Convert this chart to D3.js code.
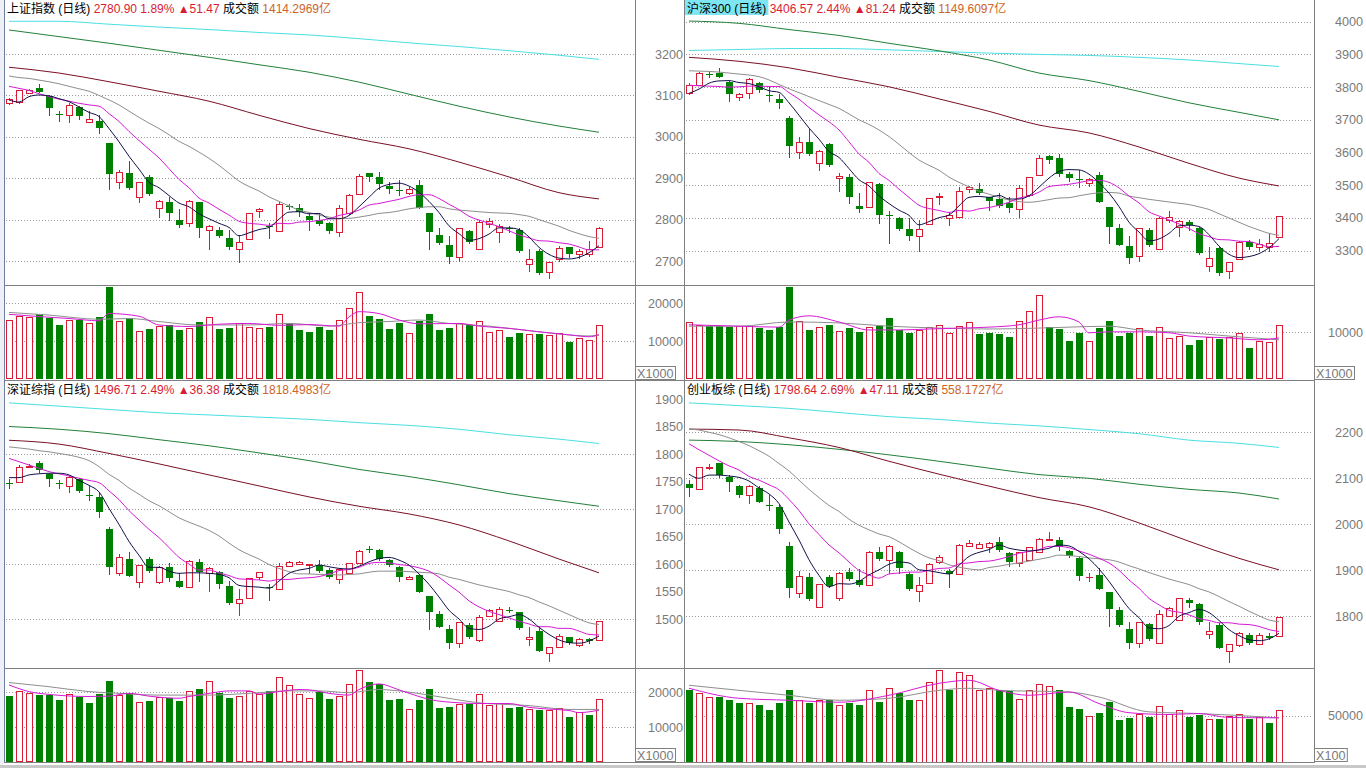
<!DOCTYPE html>
<html><head><meta charset="utf-8">
<script src="https://cdn.jsdelivr.net/npm/d3@7"></script>
<style>html,body{margin:0;padding:0;background:#fff;overflow:hidden}svg{display:block}text{white-space:pre}</style>
</head><body>
<svg id="c" width="1366" height="768"></svg>
<script>
// ---------------- DATA ----------------
const LONG_IDX = [0,5,10,15,20,25,30,35,40,45,50,55,59];
const titleNames = ["上证指数","沪深300","深证综指","创业板综"];
const titleLast = ["2780.90","3406.57","1496.71","1798.64"];
const titlePct = ["1.89%","2.44%","2.49%","2.69%"];
const titleChg = ["▲51.47","▲81.24","▲36.38","▲47.11"];
const titleAmt = ["1414.2969亿","1149.6097亿","1818.4983亿","558.1727亿"];

// 上证指数
const shOpen=[3081,3083,3106,3119,3099,3056,3052,3071,3036,3037,2984,2890,2912,2855,2902,2829,2842,2800,2791,2842,2775,2776,2755,2730,2752,2820,2784,2773,2833,2827,2808,2800,2791,2769,2815,2861,2912,2903,2881,2872,2865,2883,2815,2764,2738,2710,2772,2730,2789,2769,2779,2776,2693,2724,2674,2704,2733,2716,2718,2734];
const shHigh=[3094,3114,3115,3127,3102,3063,3081,3074,3062,3052,2985,2921,2941,2891,2907,2847,2855,2825,2847,2843,2786,2783,2776,2763,2817,2828,2791,2843,2837,2837,2815,2815,2795,2835,2862,2910,2913,2915,2891,2895,2879,2895,2815,2779,2760,2779,2776,2799,2803,2789,2784,2779,2730,2730,2698,2736,2733,2730,2749,2781];
const shLow=[3077,3080,3105,3108,3052,3039,3034,3044,3034,3010,2873,2873,2874,2839,2859,2805,2800,2783,2783,2758,2726,2758,2730,2694,2750,2803,2755,2771,2825,2808,2776,2787,2767,2757,2811,2859,2893,2875,2865,2859,2859,2827,2728,2741,2694,2698,2743,2728,2779,2744,2771,2722,2674,2668,2656,2698,2710,2706,2709,2734];
const shClose=[3091,3113,3114,3109,3069,3054,3078,3051,3042,3022,2909,2914,2877,2890,2861,2845,2815,2787,2845,2779,2785,2761,2734,2746,2815,2826,2782,2837,2830,2819,2800,2789,2773,2829,2859,2905,2903,2885,2874,2871,2874,2828,2771,2743,2709,2779,2746,2795,2796,2785,2777,2725,2706,2672,2698,2732,2718,2725,2729,2780.9];
const shVol=[15600,16700,16300,17100,16200,14300,15600,15600,14700,16400,24400,15300,16100,12700,13200,14000,14300,13000,13600,15000,16300,13200,13600,14700,13800,13400,13800,17100,14700,13000,12500,13800,13000,15600,18700,22900,16700,15800,13200,14900,12300,15300,17200,13000,13600,14700,14300,15300,12500,13000,11200,12100,11900,11900,11700,12100,9900,10900,10300,14300];
const shMA5=[3089,3084,3097,3101,3099,3092,3085,3072,3059,3049,3020,2988,2953,2922,2890,2877,2858,2840,2831,2814,2802,2791,2781,2761,2768,2776,2781,2801,2818,2819,2814,2815,2802,2802,2810,2831,2854,2876,2885,2888,2881,2866,2844,2817,2785,2766,2750,2754,2765,2780,2780,2776,2758,2733,2716,2707,2705,2709,2720,2737];
const shMA10=[3122,3117,3112,3104,3097,3091,3086,3081,3077,3074,3056,3037,3013,2991,2970,2949,2923,2897,2877,2852,2840,2825,2811,2796,2791,2789,2786,2791,2790,2794,2795,2798,2802,2810,2815,2823,2835,2839,2844,2849,2856,2860,2860,2851,2837,2824,2808,2799,2791,2783,2773,2763,2756,2749,2748,2744,2741,2734,2727,2727];
const shMA20=[3147,3143,3141,3137,3133,3128,3122,3116,3110,3100,3089,3077,3062,3047,3033,3020,3005,2989,2977,2963,2948,2931,2912,2893,2880,2869,2855,2844,2833,2823,2817,2811,2806,2803,2803,2806,2810,2815,2817,2821,2826,2829,2831,2831,2826,2823,2821,2819,2817,2816,2815,2812,2808,2800,2792,2784,2774,2766,2759,2755];
const shMA60=[3168,3154,3133,3110,3086,3052,3020,2994,2971,2939,2903,2865,2850];
const shMA120=[3258,3242,3226,3209,3192,3174,3156,3132,3103,3074,3048,3026,3011];
const shMA250=[3279,3279,3272,3265,3259,3252,3246,3237,3227,3218,3208,3197,3187];
const shVolMA5=[[0,17100],[3,16500],[6,16000],[9,15400],[10,17300],[13,16600],[15,14300],[18,13900],[21,14500],[24,14700],[27,14200],[30,14400],[33,14000],[34,16400],[35,17800],[37,17300],[39,15600],[41,14600],[45,14700],[47,14000],[50,13400],[53,12500],[56,11700],[58,11200],[59,11700]];
const shVolMA10=[[0,17600],[4,16900],[9,15800],[12,16000],[15,15200],[19,14300],[24,14300],[28,14700],[32,14000],[35,14900],[38,15200],[41,15600],[44,14700],[48,14000],[53,12500],[58,11400],[59,11700]];
const shPriceTicks=[3200,3100,3000,2900,2800,2700];
const shVolTicks=[20000,10000];

// 沪深300
const hsOpen=[3783,3807,3841,3844,3817,3769,3781,3812,3775,3764,3705,3601,3631,3567,3626,3521,3524,3437,3433,3504,3410,3399,3365,3346,3381,3463,3399,3402,3488,3489,3465,3457,3445,3427,3470,3531,3590,3583,3535,3520,3508,3531,3435,3368,3314,3284,3363,3304,3394,3373,3389,3370,3253,3307,3239,3275,3328,3310,3310,3341];
const hsHigh=[3812,3846,3850,3858,3819,3783,3827,3817,3800,3778,3712,3647,3671,3608,3630,3539,3535,3476,3511,3506,3422,3402,3399,3394,3460,3476,3419,3496,3498,3508,3465,3477,3465,3501,3526,3593,3593,3596,3542,3547,3521,3542,3435,3382,3345,3368,3368,3404,3422,3394,3394,3373,3312,3310,3266,3330,3333,3336,3351,3407];
const hsLow=[3776,3804,3832,3830,3759,3758,3764,3786,3759,3737,3586,3580,3593,3545,3560,3480,3445,3419,3433,3386,3323,3363,3333,3297,3379,3440,3376,3399,3477,3472,3424,3435,3419,3399,3465,3529,3569,3528,3514,3496,3496,3448,3324,3317,3261,3266,3314,3302,3386,3341,3363,3290,3236,3226,3213,3272,3304,3297,3295,3341];
const hsClose=[3807,3842,3839,3832,3779,3778,3825,3791,3773,3751,3621,3633,3595,3606,3562,3529,3463,3427,3511,3409,3408,3366,3346,3365,3460,3467,3409,3483,3494,3476,3452,3438,3431,3493,3524,3583,3577,3535,3521,3518,3518,3450,3373,3317,3277,3368,3317,3401,3404,3391,3379,3294,3277,3231,3266,3326,3310,3320,3325,3406.57];
const hsVol=[12200,11600,11300,11300,11100,11300,11300,10900,10500,11100,19600,12400,10500,11100,11600,10300,10900,10100,11100,11300,13000,10500,9900,10500,11100,11600,9900,11300,12200,9600,9900,9600,9100,12400,14500,17900,11200,10700,8200,9900,8200,10900,12400,9200,9900,10900,9200,11100,8700,9200,7300,8400,9100,8500,9100,9900,6700,8200,8000,11600];
const hsMA5=[3781,3794,3812,3819,3820,3814,3811,3801,3789,3784,3752,3714,3675,3641,3603,3585,3551,3517,3498,3468,3444,3424,3408,3379,3389,3401,3409,3437,3463,3466,3463,3469,3458,3458,3468,3494,3522,3542,3548,3547,3534,3508,3476,3435,3387,3357,3330,3336,3353,3376,3378,3374,3349,3314,3289,3279,3282,3291,3309,3337];
const hsMA10=[3806,3804,3803,3802,3800,3801,3803,3803,3802,3802,3783,3763,3738,3715,3694,3669,3633,3596,3570,3536,3515,3488,3463,3439,3429,3423,3417,3423,3421,3428,3432,3439,3448,3461,3467,3479,3496,3500,3503,3508,3514,3515,3509,3492,3467,3446,3419,3406,3394,3382,3368,3352,3343,3334,3333,3329,3328,3320,3312,3313];
const hsMA20=[3850,3849,3848,3846,3843,3840,3837,3832,3822,3808,3795,3783,3771,3759,3747,3735,3718,3700,3686,3669,3649,3625,3600,3577,3561,3546,3525,3509,3495,3482,3473,3463,3455,3450,3448,3451,3456,3461,3462,3468,3473,3477,3478,3476,3467,3462,3457,3453,3449,3445,3441,3434,3426,3413,3400,3387,3374,3363,3353,3347];
const hsMA60=[3891,3879,3859,3830,3801,3764,3726,3684,3660,3617,3567,3522,3498];
const hsMA120=[4002,3995,3976,3958,3934,3911,3883,3843,3820,3787,3752,3723,3700];
const hsMA250=[3912,3915,3918,3918,3914,3909,3904,3900,3897,3891,3883,3872,3863];
const hsVolMA5=[[0,11600],[5,11300],[9,11100],[10,12600],[12,13500],[15,12200],[18,10500],[21,10500],[24,10700],[27,10900],[30,11100],[33,11600],[35,12600],[37,13300],[39,12200],[40,9900],[42,10100],[45,10100],[48,9900],[50,9200],[54,8800],[57,8400],[59,8800]];
const hsVolMA10=[[0,11300],[5,11300],[10,12200],[15,12000],[20,11300],[25,10900],[30,10700],[35,10900],[38,11100],[42,11300],[45,10500],[50,9900],[54,9200],[59,8400]];
const hsPriceTicks=[4000,3900,3800,3700,3600,3500,3400,3300];
const hsVolTicks=[10000];

// 深证综指
const szOpen=[1747,1749,1776,1783,1764,1747,1741,1754,1725,1722,1664,1583,1610,1567,1609,1567,1595,1569,1559,1604,1583,1586,1560,1529,1539,1576,1558,1554,1597,1600,1599,1599,1589,1572,1583,1601,1627,1625,1607,1595,1573,1580,1541,1509,1481,1457,1490,1462,1505,1496,1517,1512,1463,1478,1439,1450,1467,1453,1463,1461];
const szHigh=[1755,1780,1781,1788,1766,1753,1760,1757,1741,1730,1668,1618,1622,1598,1613,1597,1601,1584,1607,1610,1595,1588,1570,1554,1574,1586,1564,1601,1605,1606,1600,1607,1592,1591,1602,1625,1633,1627,1609,1596,1578,1580,1541,1515,1489,1494,1493,1507,1518,1521,1521,1513,1485,1483,1450,1472,1467,1466,1466,1497];
const szLow=[1739,1747,1774,1768,1741,1738,1729,1731,1716,1686,1581,1578,1578,1557,1586,1564,1569,1558,1558,1570,1550,1557,1527,1505,1539,1571,1535,1553,1595,1598,1582,1586,1574,1564,1582,1600,1622,1607,1597,1570,1571,1549,1481,1485,1447,1447,1465,1459,1504,1494,1512,1481,1451,1441,1421,1447,1454,1450,1457,1461];
const szClose=[1746,1777,1779,1771,1754,1745,1759,1733,1724,1694,1595,1612,1579,1598,1587,1595,1575,1558,1606,1585,1592,1564,1530,1536,1574,1585,1556,1596,1604,1604,1600,1588,1577,1591,1601,1624,1626,1610,1598,1577,1577,1550,1512,1486,1456,1494,1467,1504,1516,1519,1516,1483,1467,1442,1450,1470,1456,1464,1460,1496.71];
const szVol=[18900,20500,19700,19200,19200,17800,19400,18800,17000,19500,23200,19200,19700,17100,17600,18600,18300,17600,20500,20900,23200,19700,18500,18900,20500,19400,20400,24300,22100,19400,18300,20000,18100,19000,22400,26400,23000,22400,17800,18100,15100,17800,20900,15400,15700,16800,16700,19400,16400,17000,15400,15700,15100,14900,14900,15600,13000,14300,13500,18000];
const szMA5=[1757,1757,1762,1764,1765,1765,1762,1752,1743,1731,1701,1672,1641,1616,1594,1594,1587,1583,1584,1584,1583,1581,1575,1561,1559,1558,1556,1569,1583,1589,1592,1598,1595,1592,1591,1596,1604,1610,1612,1607,1598,1582,1563,1540,1516,1500,1483,1481,1487,1500,1504,1508,1500,1485,1472,1462,1457,1456,1460,1469];
const szMA10=[1792,1786,1780,1774,1768,1764,1760,1756,1752,1748,1733,1717,1697,1680,1663,1648,1630,1612,1600,1589,1589,1584,1579,1573,1572,1571,1569,1572,1572,1574,1575,1577,1582,1588,1590,1594,1601,1603,1602,1599,1597,1593,1587,1576,1562,1549,1533,1522,1514,1508,1502,1496,1491,1486,1486,1483,1483,1478,1472,1471];
const szMA20=[1813,1811,1809,1806,1804,1801,1798,1794,1788,1777,1763,1752,1738,1727,1715,1706,1695,1684,1676,1669,1661,1651,1638,1626,1617,1609,1599,1592,1586,1582,1582,1581,1581,1580,1581,1582,1585,1587,1587,1587,1586,1585,1584,1582,1576,1572,1567,1562,1558,1554,1550,1544,1539,1531,1524,1516,1508,1500,1493,1490];
const szMA60=[1825,1818,1801,1782,1762,1742,1722,1705,1691,1671,1642,1609,1584];
const szMA120=[1850,1845,1837,1826,1815,1802,1788,1772,1759,1744,1728,1715,1705];
const szMA250=[1893,1887,1881,1875,1871,1867,1863,1857,1852,1845,1835,1827,1819];
const szVolMA5=[[0,22100],[2,20200],[4,19400],[8,18800],[10,18900],[12,19700],[14,18900],[15,18600],[17,18300],[18,18800],[20,19700],[22,20400],[24,20400],[25,19500],[27,20200],[29,20800],[30,20700],[32,19700],[34,19200],[35,20800],[37,22400],[39,20700],[41,18800],[42,18000],[45,17000],[47,16800],[50,16800],[52,15700],[54,15200],[56,14800],[57,14200],[59,14900]];
const szVolMA10=[[0,22800],[4,21600],[8,20200],[11,19700],[15,19200],[20,19200],[24,19700],[28,20400],[31,20400],[34,19900],[37,20800],[39,20400],[42,19200],[45,17800],[47,17000],[52,16200],[56,15100],[59,15100]];
const szPriceTicks=[1900,1850,1800,1750,1700,1650,1600,1550,1500];
const szGridTicks=[1800,1700,1600,1500];
const szVolTicks=[20000,10000];

// 创业板综
const cyOpen=[2088,2076,2123,2133,2103,2083,2064,2080,2041,2038,1953,1850,1885,1821,1885,1839,1897,1879,1868,1939,1922,1940,1893,1856,1873,1917,1898,1891,1953,1949,1951,1961,1937,1915,1922,1940,1966,1966,1943,1926,1885,1890,1852,1814,1772,1741,1783,1741,1801,1793,1835,1826,1762,1781,1725,1738,1759,1739,1758,1757];
const cyHigh=[2096,2124,2131,2134,2107,2085,2085,2083,2064,2042,1961,1899,1895,1870,1890,1897,1904,1902,1942,1951,1955,1943,1897,1886,1915,1933,1902,1957,1966,1962,1962,1973,1940,1940,1951,1970,1984,1972,1944,1930,1895,1904,1852,1821,1787,1787,1786,1814,1821,1840,1839,1830,1788,1785,1739,1765,1763,1763,1764,1799];
const cyLow=[2062,2075,2117,2103,2072,2059,2044,2048,2031,1982,1843,1840,1835,1817,1864,1834,1880,1866,1867,1922,1892,1895,1857,1832,1872,1914,1863,1890,1951,1948,1937,1942,1909,1907,1921,1938,1964,1944,1928,1879,1875,1859,1780,1780,1732,1732,1748,1740,1799,1792,1821,1783,1750,1730,1699,1734,1740,1738,1751,1757];
const cyClose=[2078,2124,2124,2107,2091,2064,2084,2049,2040,1990,1861,1888,1837,1870,1866,1895,1881,1867,1940,1924,1953,1904,1859,1867,1913,1930,1891,1955,1960,1957,1960,1944,1919,1939,1950,1967,1967,1951,1931,1888,1886,1859,1816,1781,1741,1787,1750,1804,1819,1839,1828,1787,1768,1732,1739,1763,1741,1759,1752,1798.64];
const cyVol=[77100,73900,69700,69700,66500,63300,63300,61200,55900,63300,77100,66500,63300,66500,66500,61200,63300,61200,77100,64400,79300,74000,66500,66500,85700,98400,77100,96300,93100,77100,79300,77100,76400,68300,77900,83500,81400,77100,59400,56900,49500,53000,64700,45200,47700,51300,48700,60400,52300,55900,48700,50500,47000,46300,49800,51300,46000,48700,42300,55900];
const cyMA5=[2109,2100,2107,2107,2105,2102,2094,2079,2066,2045,2005,1966,1923,1889,1864,1871,1870,1876,1890,1901,1913,1918,1916,1901,1899,1895,1892,1911,1930,1939,1945,1955,1948,1944,1942,1944,1948,1955,1953,1941,1925,1903,1876,1846,1817,1797,1775,1773,1780,1800,1808,1815,1808,1791,1771,1758,1749,1747,1751,1763];
const cyMA10=[2175,2162,2150,2138,2127,2118,2104,2096,2086,2075,2054,2030,2001,1978,1955,1938,1918,1900,1890,1883,1892,1894,1896,1896,1900,1904,1905,1914,1916,1919,1920,1924,1930,1937,1941,1945,1952,1952,1949,1942,1935,1926,1916,1900,1879,1861,1839,1825,1813,1809,1803,1795,1791,1786,1786,1783,1782,1778,1771,1767];
const cyMA20=[2207,2205,2200,2195,2188,2180,2171,2160,2148,2132,2116,2096,2076,2058,2041,2028,2011,1998,1988,1979,1973,1962,1949,1937,1927,1921,1912,1907,1903,1901,1906,1909,1913,1916,1920,1924,1928,1933,1932,1930,1927,1925,1923,1918,1910,1903,1895,1888,1881,1875,1869,1860,1853,1843,1832,1822,1811,1801,1792,1788];
const cyMA60=[2207,2205,2188,2167,2137,2109,2083,2058,2038,2003,1963,1926,1901];
const cyMA120=[2183,2180,2173,2163,2151,2137,2122,2108,2100,2087,2076,2068,2055];
const cyMA250=[2264,2258,2252,2243,2234,2228,2220,2214,2206,2197,2183,2176,2167];
const cyVolMA5=[[0,79300],[5,68600],[10,66500],[15,64400],[20,71800],[25,84600],[28,87800],[31,77100],[34,71800],[38,75300],[41,63000],[44,53200],[48,51300],[51,52300],[54,48100],[59,47700]];
const cyVolMA10=[[0,82500],[5,77100],[10,71800],[15,66500],[20,68600],[25,77100],[28,79300],[31,77100],[38,75300],[41,70000],[46,54100],[51,52300],[59,47700]];
const cyPriceTicks=[2200,2100,2000,1900,1800];
const cyVolTicks=[50000];

// ---------------- STYLE ----------------
const RED="#d81c34", GREEN="#008000", GRID="#9a9a9a", BORDER="#808080", AXTXT="#7a7a7a";
const C_MA5="#10104a", C_MA10="#d61ad6", C_MA20="#8e8e8e", C_MA60="#7a1025", C_MA120="#23803a", C_MA250="#4cdfe2";
const FONT="'Liberation Sans','Noto Sans CJK SC',Arial,sans-serif";

const panels=[
 {t:0,o:shOpen,h:shHigh,l:shLow,c:shClose,v:shVol,ma5:shMA5,ma10:shMA10,ma20:shMA20,ma60:shMA60,ma120:shMA120,ma250:shMA250,vma5:shVolMA5,vma10:shVolMA10,
  pTicks:shPriceTicks,pGrid:shPriceTicks,pDom:[2700,3200],vTicks:shVolTicks,vDom:[0,20000],unit:"X1000",
  x0:4,x1:635,ax1:683,yTop:0,ySplit:285,yBot:380,pRange:[261,54],vRange:[379.3,303.3],hl:false},
 {t:1,o:hsOpen,h:hsHigh,l:hsLow,c:hsClose,v:hsVol,ma5:hsMA5,ma10:hsMA10,ma20:hsMA20,ma60:hsMA60,ma120:hsMA120,ma250:hsMA250,vma5:hsVolMA5,vma10:hsVolMA10,
  pTicks:hsPriceTicks,pGrid:hsPriceTicks,pDom:[3300,4000],vTicks:hsVolTicks,vDom:[0,10000],unit:"X1000",
  x0:684,x1:1314,ax1:1363,yTop:0,ySplit:285,yBot:380,pRange:[250.7,21.7],vRange:[379.3,332.3],hl:true},
 {t:2,o:szOpen,h:szHigh,l:szLow,c:szClose,v:szVol,ma5:szMA5,ma10:szMA10,ma20:szMA20,ma60:szMA60,ma120:szMA120,ma250:szMA250,vma5:szVolMA5,vma10:szVolMA10,
  pTicks:szPriceTicks,pGrid:szGridTicks,pDom:[1500,1800],vTicks:szVolTicks,vDom:[0,20000],unit:"X1000",
  x0:4,x1:635,ax1:683,yTop:381,ySplit:668,yBot:762,pRange:[619,454],vRange:[762.3,692.3],hl:false},
 {t:3,o:cyOpen,h:cyHigh,l:cyLow,c:cyClose,v:cyVol,ma5:cyMA5,ma10:cyMA10,ma20:cyMA20,ma60:cyMA60,ma120:cyMA120,ma250:cyMA250,vma5:cyVolMA5,vma10:cyVolMA10,
  pTicks:cyPriceTicks,pGrid:cyPriceTicks,pDom:[1800,2200],vTicks:cyVolTicks,vDom:[0,50000],unit:"X100",
  x0:684,x1:1314,ax1:1363,yTop:381,ySplit:668,yBot:762,pRange:[616.3,432.3],vRange:[762.5,715.7],hl:false}
];

const svg=d3.select("#c");
svg.append("rect").attr("width",1366).attr("height",768).attr("fill","#fff");
const bgLayer=svg.append("g");

panels.forEach(p=>{
  const g=svg.append("g");
  const n=p.c.length;
  const x=d3.scaleLinear().domain([0,n-1]).range([p.x0+5,p.x0+5+10*(n-1)]);
  const y=d3.scaleLinear().domain(p.pDom).range(p.pRange);
  const yv=d3.scaleLinear().domain(p.vDom).range(p.vRange);
  const R=v=>Math.round(v);

  g.selectAll(".pg").data(p.pGrid).join("line")
    .attr("x1",p.x0+2).attr("x2",p.x1-1).attr("y1",d=>R(y(d))+0.5).attr("y2",d=>R(y(d))+0.5)
    .attr("stroke",GRID).attr("stroke-dasharray","1,2");
  g.selectAll(".vg").data(p.vTicks).join("line")
    .attr("x1",p.x0+2).attr("x2",p.x1-1).attr("y1",d=>R(yv(d))+0.5).attr("y2",d=>R(yv(d))+0.5)
    .attr("stroke",GRID).attr("stroke-dasharray","1,2");

  g.selectAll(".pl").data(p.pTicks).join("text")
    .attr("x",p.ax1).attr("y",d=>y(d)+4.5).attr("text-anchor","end")
    .attr("font-family",FONT).attr("font-size",12.6).attr("fill",AXTXT).text(d=>d);
  g.selectAll(".vl").data(p.vTicks).join("text")
    .attr("x",p.ax1).attr("y",d=>yv(d)+4.5).attr("text-anchor","end")
    .attr("font-family",FONT).attr("font-size",12.6).attr("fill",AXTXT).text(d=>d);

  const uw = p.unit.length*7.2+4;
  g.append("rect").attr("x",p.x1+0.5).attr("y",p.yBot-13.5).attr("width",uw).attr("height",13)
    .attr("fill","#fff").attr("stroke",BORDER);
  g.append("text").attr("x",p.x1+2).attr("y",p.yBot-2).attr("font-family",FONT).attr("font-size",12.6)
    .attr("fill",AXTXT).text(p.unit);

  d3.range(n).forEach(i=>{
    const cx=R(x(i));
    const o=p.o[i],c=p.c[i],hi=p.h[i],lo=p.l[i];
    const up=c>o;
    const yt=R(y(Math.max(o,c))), yb=R(y(Math.min(o,c)));
    const yh=R(y(hi)), yl=R(y(lo));
    if(up){
      g.append("line").attr("x1",cx+0.5).attr("x2",cx+0.5).attr("y1",yh).attr("y2",yt).attr("stroke",RED);
      g.append("line").attr("x1",cx+0.5).attr("x2",cx+0.5).attr("y1",yb).attr("y2",yl).attr("stroke",RED);
      if(yb-yt<1){
        g.append("line").attr("x1",cx-3).attr("x2",cx+4).attr("y1",yt+0.5).attr("y2",yt+0.5).attr("stroke",RED);
      } else {
        g.append("rect").attr("x",cx-2.5).attr("y",yt+0.5).attr("width",6).attr("height",yb-yt)
          .attr("fill","#fff").attr("stroke",RED);
      }
    } else {
      g.append("line").attr("x1",cx+0.5).attr("x2",cx+0.5).attr("y1",yh).attr("y2",yl+1).attr("stroke",GREEN);
      g.append("rect").attr("x",cx-3).attr("y",yt).attr("width",7).attr("height",Math.max(yb-yt,1)).attr("fill",GREEN);
    }
    const vt=R(yv(p.v[i])), vb=R(p.vRange[0]);
    if(up){
      g.append("rect").attr("x",cx-2.5).attr("y",vt+0.5).attr("width",6).attr("height",vb-vt-1)
        .attr("fill","#fff").attr("stroke",RED);
    } else {
      g.append("rect").attr("x",cx-3).attr("y",vt).attr("width",7).attr("height",vb-vt).attr("fill",GREEN);
    }
  });

  const line=d3.line().x(d=>x(d[0])).y(d=>y(d[1])).curve(d3.curveMonotoneX);
  const vline=d3.line().x(d=>x(d[0])).y(d=>yv(d[1])).curve(d3.curveMonotoneX);
  const full=a=>a.map((v,i)=>[i,v]);
  const sparse=a=>a.map((v,k)=>[LONG_IDX[k],v]);
  [[sparse(p.ma250),C_MA250],[sparse(p.ma120),C_MA120],[sparse(p.ma60),C_MA60],
   [full(p.ma20),C_MA20],[full(p.ma10),C_MA10],[full(p.ma5),C_MA5]].forEach(([d,col])=>{
    g.append("path").attr("d",line(d)).attr("fill","none").attr("stroke",col).attr("stroke-width",1);
  });
  g.append("path").attr("d",vline(p.vma10)).attr("fill","none").attr("stroke",C_MA20).attr("stroke-width",1);
  g.append("path").attr("d",vline(p.vma5)).attr("fill","none").attr("stroke",C_MA10).attr("stroke-width",1);

  const right = p.x0===4 ? 685 : p.x1;
  g.append("line").attr("x1",p.x0).attr("x2",right).attr("y1",p.ySplit+0.5).attr("y2",p.ySplit+0.5).attr("stroke",BORDER);
  g.append("line").attr("x1",p.x0).attr("x2",right).attr("y1",p.yBot+0.5).attr("y2",p.yBot+0.5).attr("stroke",BORDER);
  g.append("line").attr("x1",p.x1+0.5).attr("x2",p.x1+0.5).attr("y1",p.yTop).attr("y2",p.yBot+1).attr("stroke",BORDER);
  g.append("line").attr("x1",p.x0+0.5).attr("x2",p.x0+0.5).attr("y1",p.yTop).attr("y2",p.yBot+1).attr("stroke",p.x0===4?"#6f7f9f":BORDER);

  const ty=p.yTop+12.5, tx=p.x0+3;
  const tt=svg.append("text").attr("x",tx).attr("y",ty).attr("font-family",FONT).attr("font-size",12);
  const s1=tt.append("tspan").attr("fill","#000").text(titleNames[p.t]+" (日线)");
  tt.append("tspan").attr("fill",RED).text(" "+titleLast[p.t]+" "+titlePct[p.t]+" "+titleChg[p.t]);
  tt.append("tspan").attr("fill","#000").text(" 成交额");
  tt.append("tspan").attr("fill","#cc6428").text(" "+titleAmt[p.t]);
  if(p.hl){
    const w=s1.node().getComputedTextLength();
    bgLayer.append("rect").attr("x",p.x0+1).attr("y",p.yTop).attr("width",w+4).attr("height",15).attr("fill","#7ee6f2");
  }
});
svg.append("rect").attr("x",0).attr("y",765).attr("width",1366).attr("height",3).attr("fill","#c8c8c8");
svg.append("rect").attr("x",0).attr("y",0).attr("width",4).attr("height",765).attr("fill","#eef0f5");
</script>
</body></html>
